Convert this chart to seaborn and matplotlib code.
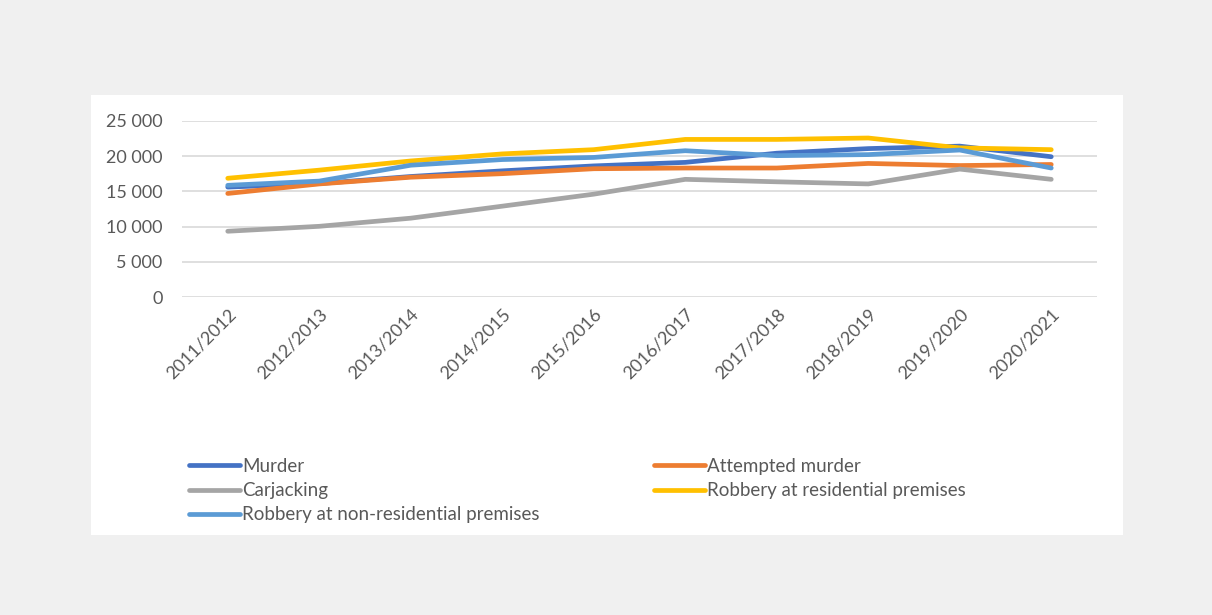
import matplotlib
matplotlib.use("Agg")
import matplotlib.pyplot as plt
import seaborn as sns
import pandas as pd
from matplotlib.patches import Rectangle
from matplotlib.lines import Line2D
from matplotlib.ticker import FuncFormatter, MultipleLocator

years = ["2011/2012", "2012/2013", "2013/2014", "2014/2015", "2015/2016",
         "2016/2017", "2017/2018", "2018/2019", "2019/2020", "2020/2021"]
murder = [15600, 16100, 17100, 17900, 18600, 19100, 20400, 21050, 21400, 19900]
attempted_murder = [14700, 16050, 17000, 17500, 18200, 18300, 18300, 18950, 18650, 18800]
carjacking = [9350, 10050, 11200, 12900, 14600, 16700, 16350, 16050, 18150, 16700]
robbery_res = [16850, 18000, 19300, 20300, 20900, 22350, 22350, 22550, 21150, 20900]
robbery_nonres = [15850, 16450, 18700, 19500, 19800, 20750, 20050, 20200, 20850, 18300]

series_names = ["Murder", "Attempted murder", "Carjacking",
                "Robbery at residential premises", "Robbery at non-residential premises"]
series_values = [murder, attempted_murder, carjacking, robbery_res, robbery_nonres]
colors = ["#4472c4", "#ed7d31", "#a5a5a5", "#ffc000", "#5b9bd5"]

rows = []
for name, vals in zip(series_names, series_values):
    for i, (y, v) in enumerate(zip(years, vals)):
        rows.append({"year": y, "idx": i, "series": name, "value": v})
df = pd.DataFrame(rows)

sns.set_style("white")
plt.rcParams["font.family"] = ["Lato", "DejaVu Sans"]

W, H = 1212, 615
fig = plt.figure(figsize=(W / 100, H / 100), dpi=100)
fig.patch.set_facecolor("#f0f0f0")
fig.patches.append(Rectangle((91 / W, 1 - 535 / H), (1123 - 91) / W, (535 - 95) / H,
                             transform=fig.transFigure, facecolor="white",
                             edgecolor="none", zorder=-10))

ax = fig.add_axes([182 / W, 1 - 297.3 / H, (1097 - 182) / W, (297.3 - 120.7) / H])
ax.set_zorder(5)
ax.set_facecolor("none")
sns.lineplot(data=df, x="idx", y="value", hue="series", hue_order=series_names,
             palette=colors, linewidth=3.4, ax=ax, legend=False, sort=False)
for l in ax.lines:
    l.set_solid_capstyle("round")

ax.set_xlim(-0.5, len(years) - 0.5)
ax.set_ylim(0, 25000)
ax.yaxis.set_major_locator(MultipleLocator(5000))
ax.yaxis.set_major_formatter(FuncFormatter(lambda v, p: f"{int(v):,}".replace(",", " ")))
ax.set_xticks(range(len(years)))
ax.set_xticklabels(years, rotation=45, ha="right", rotation_mode="anchor")
ax.grid(axis="y", color="#d9d9d9", linewidth=1.2)
ax.grid(axis="x", visible=False)
ax.set_axisbelow(True)
for s in ax.spines.values():
    s.set_visible(False)
ax.tick_params(axis="both", length=0, labelsize=13, colors="#595959")
ax.tick_params(axis="y", pad=14)
ax.tick_params(axis="x", pad=6)
ax.set_xlabel("")
ax.set_ylabel("")

handles = [Line2D([], [], color=c, linewidth=3.4, solid_capstyle="round") for c in colors]
col1 = [0, 2, 4]
col2 = [1, 3]
leg_kw = dict(frameon=False, fontsize=13.5, handlelength=2.7, handletextpad=0.12,
              labelspacing=0.38, loc="upper left", borderaxespad=0, borderpad=0,
              labelcolor="#595959")
leg1 = fig.legend([handles[i] for i in col1], [series_names[i] for i in col1],
                  bbox_to_anchor=(189 / W, 1 - 458 / H), **leg_kw)
leg2 = fig.legend([handles[i] for i in col2], [series_names[i] for i in col2],
                  bbox_to_anchor=(654 / W, 1 - 458 / H), **leg_kw)

fig.savefig("out.png", dpi=100, facecolor=fig.get_facecolor())
